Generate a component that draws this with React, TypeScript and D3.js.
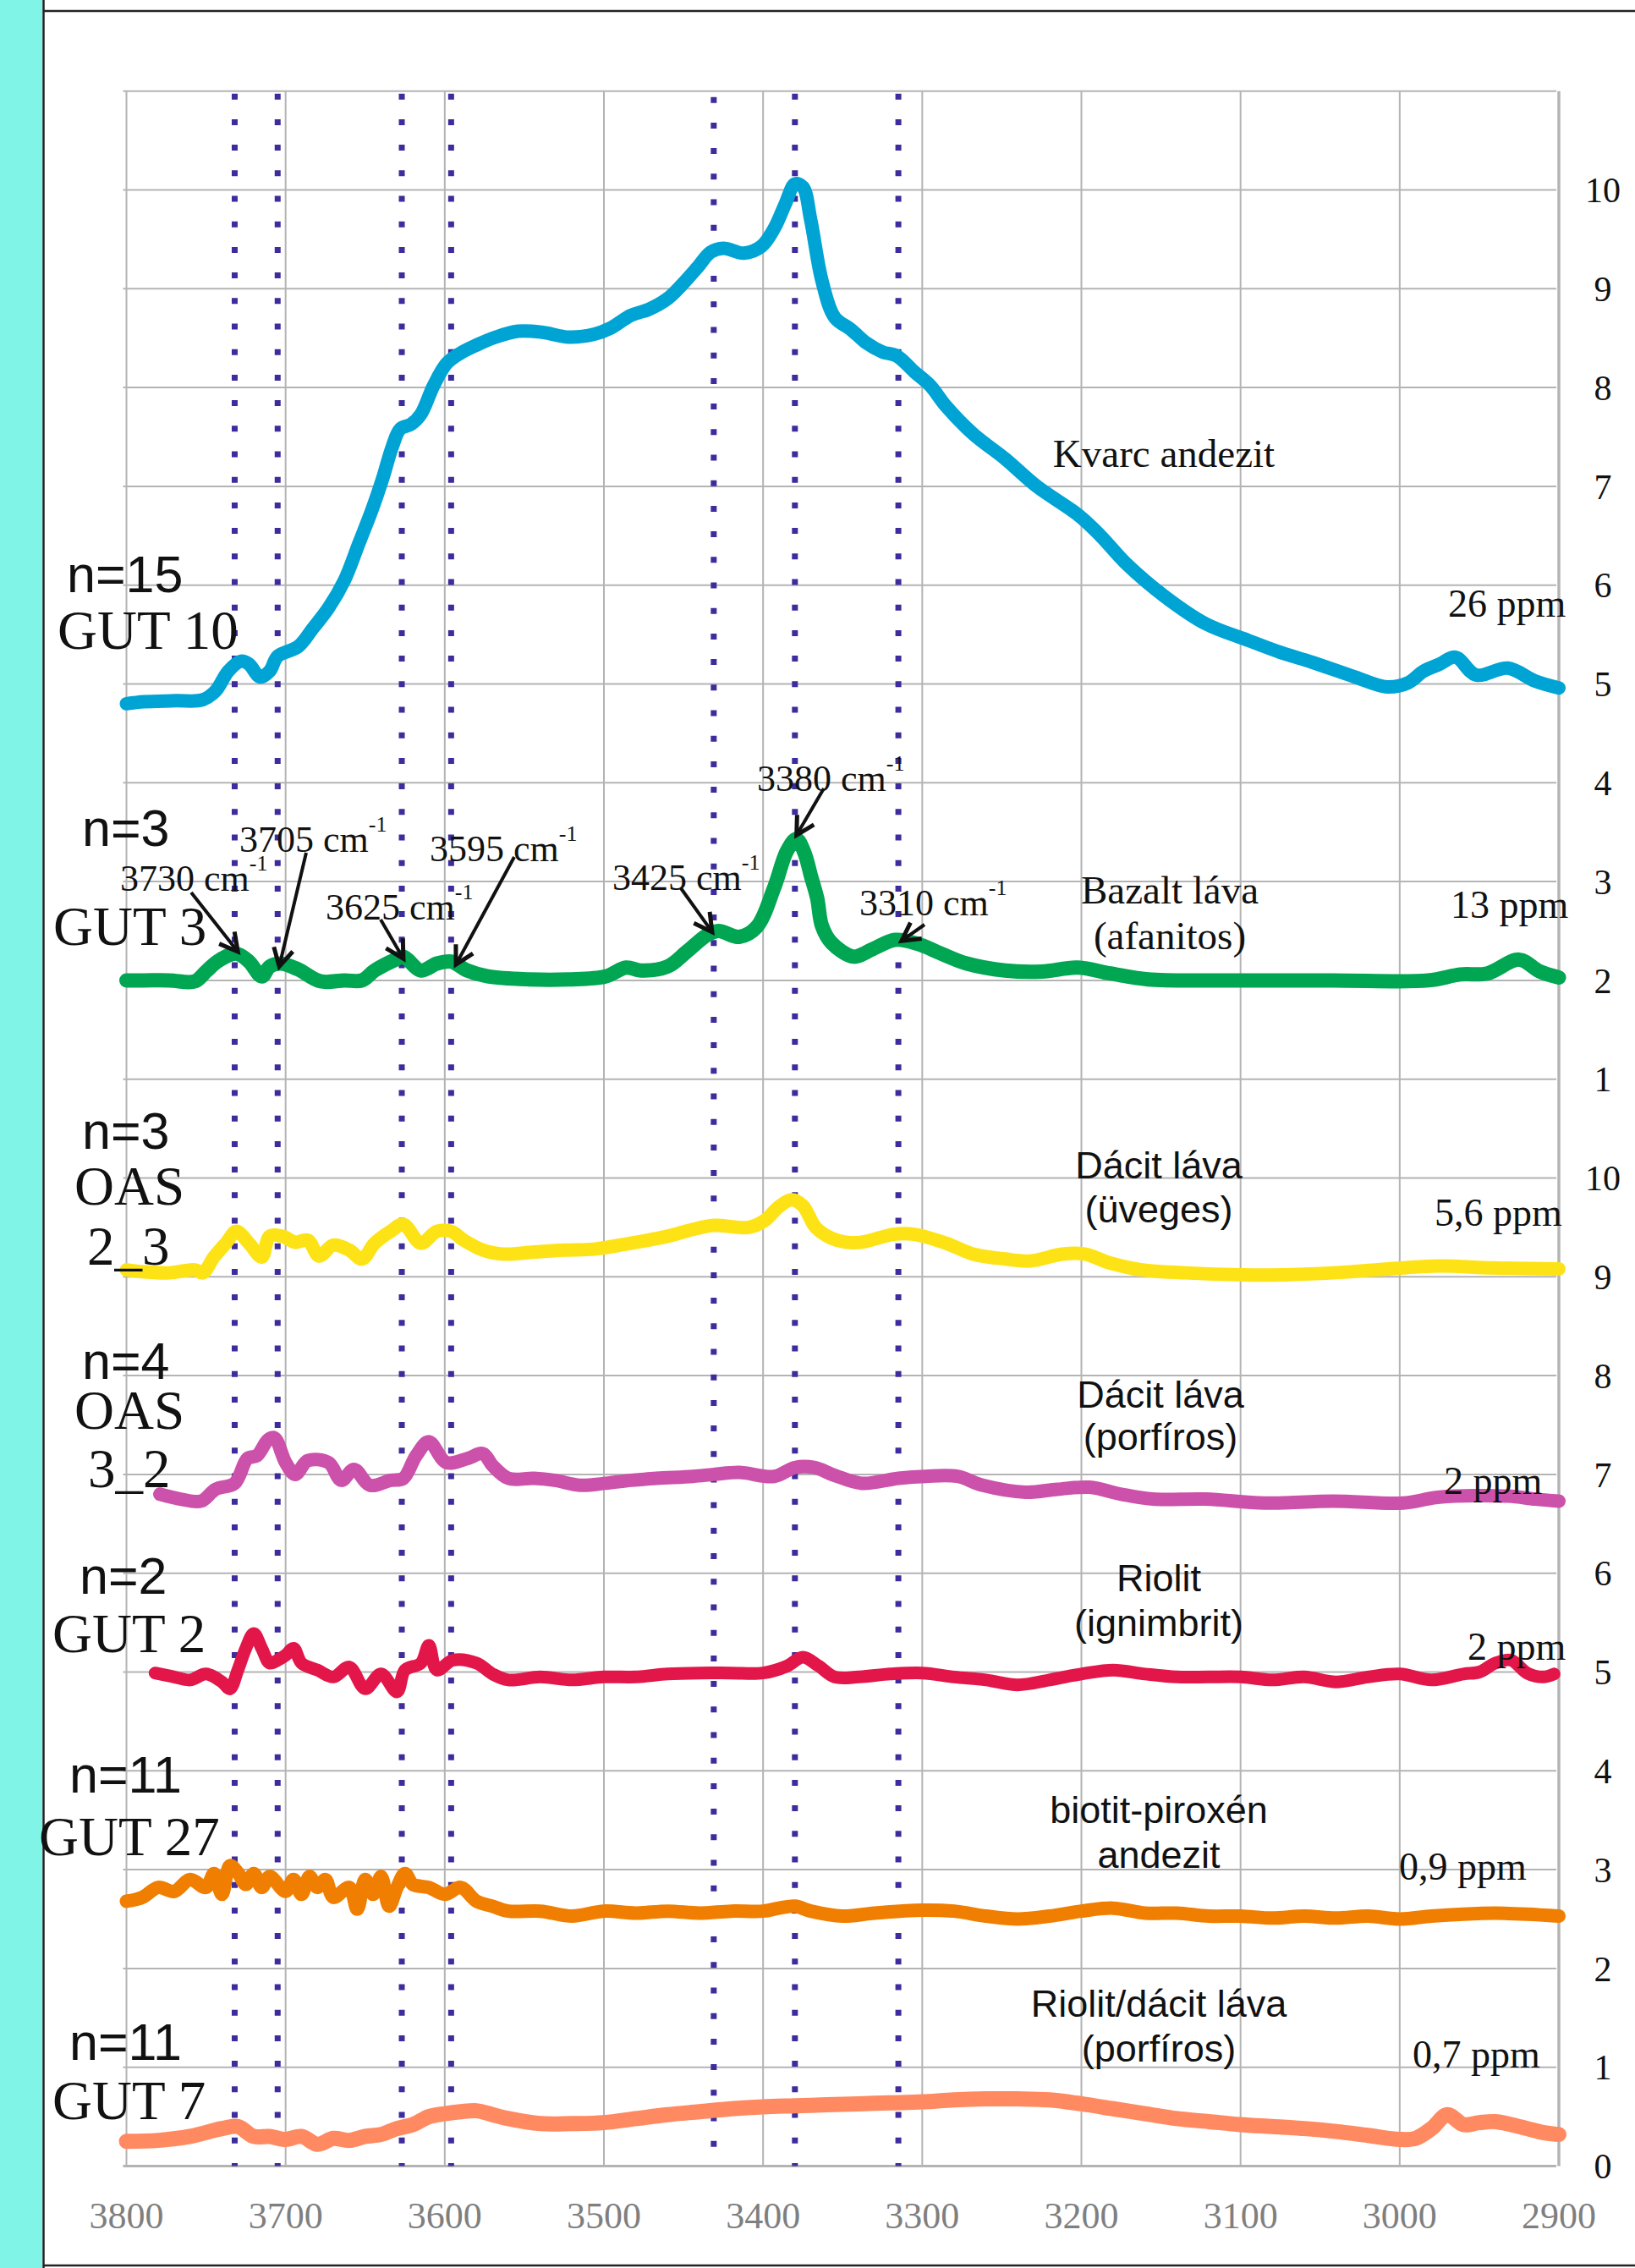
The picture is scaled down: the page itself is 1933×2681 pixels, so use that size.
import React from 'react';
import * as d3 from 'd3';

type Pt = [number, number];

// ---------- axis / grid data ----------
const WN_TICKS = [3800, 3700, 3600, 3500, 3400, 3300, 3200, 3100, 3000, 2900];
const Y_GRID = d3.range(0, 22); // combined stacked axis 0..21
const PEAK_LINES = [3732, 3705, 3627, 3596, 3431, 3380, 3315];

// ---------- series (top panel: values 0..11, bottom panel: values 0..10) ----------
const kvarcAndezit: Pt[] = [
  [3800, 4.8], [3789, 4.82], [3769, 4.83], [3752, 4.84], [3744, 4.93], [3736, 5.13], [3728, 5.23], [3723, 5.2],
  [3716, 5.07], [3710, 5.13], [3705, 5.28], [3692, 5.38], [3683, 5.56], [3673, 5.77], [3663, 6.05], [3654, 6.42],
  [3646, 6.75], [3639, 7.08], [3633, 7.4], [3628, 7.58], [3621, 7.63], [3615, 7.73], [3607, 8.02], [3599, 8.24],
  [3591, 8.34], [3580, 8.43], [3568, 8.51], [3554, 8.57], [3539, 8.56], [3522, 8.51], [3506, 8.54], [3496, 8.6],
  [3483, 8.73], [3472, 8.79], [3460, 8.9], [3451, 9.04], [3441, 9.22], [3433, 9.37], [3425, 9.41], [3412, 9.36],
  [3401, 9.43], [3393, 9.61], [3386, 9.86], [3380, 10.06], [3375, 10.03], [3370, 9.69], [3363, 9.08], [3355, 8.71],
  [3345, 8.59], [3335, 8.45], [3325, 8.36], [3316, 8.32], [3305, 8.16], [3295, 8.02], [3285, 7.81], [3268, 7.53],
  [3248, 7.28], [3228, 7.0], [3202, 6.71], [3188, 6.5], [3172, 6.22], [3148, 5.89], [3122, 5.61], [3095, 5.44],
  [3075, 5.32], [3055, 5.22], [3028, 5.07], [3008, 4.97], [2995, 5.01], [2985, 5.13], [2975, 5.2], [2965, 5.27],
  [2952, 5.09], [2932, 5.16], [2915, 5.03], [2900, 4.96],
];

const bazaltLava: Pt[] = [
  [3800, 2.0], [3789, 2.0], [3773, 2.0], [3757, 1.99], [3750, 2.09], [3742, 2.2], [3731, 2.27], [3723, 2.19],
  [3715, 2.04], [3710, 2.14], [3703, 2.17], [3692, 2.11], [3678, 1.99], [3663, 2.0], [3652, 2.0], [3644, 2.1],
  [3631, 2.21], [3626, 2.24], [3615, 2.1], [3605, 2.17], [3596, 2.19], [3586, 2.1], [3573, 2.04], [3547, 2.01],
  [3522, 2.01], [3499, 2.04], [3486, 2.13], [3477, 2.1], [3460, 2.14], [3448, 2.29], [3435, 2.46], [3428, 2.5],
  [3415, 2.44], [3404, 2.54], [3393, 2.94], [3385, 3.31], [3379, 3.43], [3374, 3.29], [3370, 3.06], [3366, 2.83],
  [3363, 2.55], [3357, 2.38], [3343, 2.24], [3332, 2.31], [3317, 2.41], [3303, 2.37], [3288, 2.27], [3272, 2.17],
  [3248, 2.1], [3225, 2.09], [3202, 2.13], [3182, 2.07], [3158, 2.01], [3108, 2.0], [3042, 2.0], [2982, 2.0],
  [2962, 2.06], [2945, 2.07], [2925, 2.21], [2912, 2.09], [2900, 2.03],
];

const dacitUveges: Pt[] = [
  [3800, 9.07], [3789, 9.05], [3773, 9.04], [3757, 9.07], [3752, 9.04], [3745, 9.2], [3737, 9.35], [3731, 9.46],
  [3723, 9.34], [3715, 9.2], [3710, 9.41], [3702, 9.41], [3694, 9.35], [3686, 9.37], [3679, 9.21], [3670, 9.32],
  [3660, 9.27], [3652, 9.18], [3644, 9.34], [3634, 9.46], [3626, 9.53], [3615, 9.34], [3605, 9.46], [3596, 9.46],
  [3588, 9.37], [3576, 9.27], [3563, 9.23], [3544, 9.25], [3525, 9.27], [3506, 9.28], [3483, 9.34], [3460, 9.41],
  [3444, 9.48], [3431, 9.52], [3409, 9.5], [3399, 9.57], [3390, 9.71], [3382, 9.78], [3375, 9.72], [3367, 9.5],
  [3357, 9.39], [3348, 9.35], [3338, 9.35], [3318, 9.43], [3305, 9.43], [3285, 9.34], [3268, 9.23], [3248, 9.18],
  [3232, 9.16], [3212, 9.23], [3198, 9.23], [3182, 9.14], [3162, 9.07], [3135, 9.04], [3098, 9.02], [3075, 9.02],
  [3042, 9.04], [3015, 9.07], [2975, 9.11], [2942, 9.09], [2900, 9.08],
];

const dacitPorfiros: Pt[] = [
  [3779, 6.8], [3766, 6.75], [3753, 6.73], [3744, 6.85], [3732, 6.91], [3724, 7.16], [3718, 7.19], [3711, 7.35],
  [3707, 7.37], [3700, 7.12], [3694, 7.0], [3686, 7.14], [3673, 7.12], [3665, 6.94], [3657, 7.05], [3647, 6.89],
  [3634, 6.94], [3626, 6.96], [3618, 7.19], [3610, 7.33], [3599, 7.12], [3586, 7.16], [3576, 7.21], [3570, 7.09],
  [3560, 6.96], [3544, 6.96], [3531, 6.94], [3515, 6.89], [3499, 6.91], [3483, 6.94], [3467, 6.96], [3444, 6.98],
  [3431, 7.0], [3415, 7.02], [3393, 6.98], [3380, 7.07], [3368, 7.07], [3355, 6.99], [3338, 6.91], [3315, 6.96],
  [3298, 6.98], [3278, 6.98], [3262, 6.89], [3235, 6.82], [3215, 6.85], [3195, 6.87], [3175, 6.8], [3155, 6.75],
  [3122, 6.75], [3085, 6.71], [3042, 6.73], [2998, 6.71], [2975, 6.77], [2932, 6.78], [2915, 6.75], [2900, 6.73],
];

const riolitIgnimbrit: Pt[] = [
  [3782, 4.99], [3770, 4.95], [3760, 4.92], [3750, 4.98], [3740, 4.9], [3735, 4.83], [3730, 5.02], [3725, 5.24],
  [3720, 5.39], [3715, 5.24], [3710, 5.09], [3705, 5.12], [3700, 5.17], [3695, 5.24], [3690, 5.09], [3680, 5.02],
  [3670, 4.95], [3660, 5.05], [3650, 4.83], [3640, 4.98], [3630, 4.8], [3625, 5.02], [3615, 5.09], [3610, 5.27],
  [3605, 5.02], [3595, 5.12], [3580, 5.09], [3570, 4.98], [3560, 4.92], [3540, 4.95], [3520, 4.92], [3500, 4.95],
  [3480, 4.95], [3460, 4.98], [3440, 4.99], [3420, 4.99], [3400, 4.99], [3385, 5.06], [3375, 5.15], [3365, 5.06],
  [3355, 4.95], [3340, 4.95], [3320, 4.98], [3300, 4.99], [3280, 4.95], [3260, 4.92], [3240, 4.87], [3220, 4.92],
  [3200, 4.98], [3180, 5.02], [3160, 4.98], [3140, 4.95], [3120, 4.95], [3100, 4.95], [3080, 4.92], [3060, 4.95],
  [3040, 4.9], [3020, 4.95], [3000, 4.98], [2980, 4.92], [2960, 4.98], [2950, 5.0], [2940, 5.09], [2930, 5.12],
  [2920, 4.99], [2910, 4.95], [2903, 4.98],
];

const biotitPiroxen: Pt[] = [
  [3800, 2.68], [3790, 2.72], [3780, 2.82], [3770, 2.78], [3760, 2.9], [3750, 2.82], [3745, 2.96], [3740, 2.75],
  [3735, 3.04], [3730, 2.97], [3725, 2.85], [3720, 2.96], [3715, 2.82], [3710, 2.93], [3700, 2.78], [3695, 2.9],
  [3690, 2.75], [3685, 2.93], [3680, 2.82], [3675, 2.9], [3670, 2.72], [3660, 2.82], [3655, 2.6], [3650, 2.9],
  [3645, 2.75], [3640, 2.93], [3635, 2.63], [3630, 2.82], [3625, 2.96], [3620, 2.85], [3610, 2.82], [3600, 2.75],
  [3590, 2.82], [3580, 2.68], [3570, 2.63], [3560, 2.58], [3540, 2.58], [3520, 2.53], [3500, 2.58], [3480, 2.56],
  [3460, 2.58], [3440, 2.56], [3420, 2.58], [3400, 2.58], [3390, 2.61], [3380, 2.63], [3370, 2.58], [3350, 2.53],
  [3330, 2.56], [3300, 2.59], [3280, 2.58], [3260, 2.53], [3240, 2.5], [3220, 2.53], [3200, 2.58], [3180, 2.61],
  [3160, 2.56], [3140, 2.56], [3120, 2.53], [3100, 2.53], [3080, 2.51], [3060, 2.53], [3040, 2.51], [3020, 2.53],
  [3000, 2.5], [2980, 2.53], [2960, 2.55], [2940, 2.56], [2920, 2.55], [2900, 2.53],
];

const riolitDacit: Pt[] = [
  [3800, 0.25], [3780, 0.26], [3760, 0.3], [3740, 0.38], [3730, 0.4], [3720, 0.3], [3710, 0.3], [3700, 0.27],
  [3690, 0.3], [3680, 0.22], [3670, 0.28], [3660, 0.26], [3650, 0.3], [3640, 0.32], [3630, 0.38], [3620, 0.42],
  [3610, 0.5], [3600, 0.53], [3590, 0.55], [3580, 0.56], [3570, 0.52], [3560, 0.48], [3540, 0.43], [3520, 0.43],
  [3500, 0.44], [3480, 0.48], [3460, 0.52], [3440, 0.55], [3420, 0.58], [3400, 0.6], [3380, 0.61], [3360, 0.62],
  [3340, 0.63], [3320, 0.64], [3300, 0.65], [3280, 0.67], [3260, 0.68], [3240, 0.68], [3220, 0.67], [3200, 0.63],
  [3180, 0.58], [3160, 0.53], [3140, 0.48], [3120, 0.45], [3100, 0.42], [3080, 0.4], [3060, 0.38], [3040, 0.35],
  [3020, 0.31], [3000, 0.27], [2990, 0.28], [2980, 0.38], [2970, 0.52], [2960, 0.42], [2950, 0.44], [2940, 0.45],
  [2930, 0.42], [2920, 0.38], [2910, 0.34], [2900, 0.32],
];

// ---------- labels ----------
const SERIES_NAMES = [
  ['Kvarc andezit'], ['Bazalt láva', '(afanitos)'], ['Dácit láva', '(üveges)'], ['Dácit láva', '(porfíros)'],
  ['Riolit', '(ignimbrit)'], ['biotit-piroxén', 'andezit'], ['Riolit/dácit láva', '(porfíros)'],
];
const PPM_LABELS = ['26 ppm', '13 ppm', '5,6 ppm', '2 ppm', '2 ppm', '0,9 ppm', '0,7 ppm'];
const N_LABELS = ['n=15', 'n=3', 'n=3', 'n=4', 'n=2', 'n=11', 'n=11'];
const SAMPLE_LABELS = [['GUT 10'], ['GUT 3'], ['OAS', '2_3'], ['OAS', '3_2'], ['GUT 2'], ['GUT 27'], ['GUT 7']];
const PEAK_LABELS = ['3730', '3705', '3625', '3595', '3425', '3380', '3310'];
const PEAK_TIPS: Pt[] = [[3730, 2.29], [3704, 2.14], [3626, 2.22], [3593, 2.16], [3432, 2.49], [3379, 3.47], [3313, 2.4]];

// ---------- layout (pixels) ----------
const W = 1933, H = 2681;
const PLOT_L = 149.5, PLOT_R = 1843, PLOT_T = 107.7, PLOT_B = 2560.5;
const SERIF = '"Liberation Serif", "Times New Roman", serif';
const SANS = '"Liberation Sans", Arial, sans-serif';

const seriesStyle = [
  { data: kvarcAndezit, color: '#00a4d4', width: 16, top: true, name: { x: 1376, y: [552], sans: false }, ppm: { x: 1712, y: 729 } },
  { data: bazaltLava, color: '#00a651', width: 17, top: true, name: { x: 1383, y: [1068, 1122], sans: false }, ppm: { x: 1715, y: 1085 } },
  { data: dacitUveges, color: '#fde316', width: 16, top: false, name: { x: 1370, y: [1393, 1445], sans: true }, ppm: { x: 1696, y: 1449 } },
  { data: dacitPorfiros, color: '#cc51aa', width: 16, top: false, name: { x: 1372, y: [1664, 1714], sans: true }, ppm: { x: 1707, y: 1766 } },
  { data: riolitIgnimbrit, color: '#e3164a', width: 15, top: false, name: { x: 1370, y: [1881, 1934], sans: true }, ppm: { x: 1735, y: 1962 } },
  { data: biotitPiroxen, color: '#f07e00', width: 16, top: false, name: { x: 1370, y: [2155, 2208], sans: true }, ppm: { x: 1654, y: 2222 } },
  { data: riolitDacit, color: '#ff8a62', width: 18, top: false, name: { x: 1370, y: [2384, 2437], sans: true }, ppm: { x: 1670, y: 2444 } },
];

const leftLabelPos = [
  { nx: 79, ny: 700, sx: 68, sy: [767] },
  { nx: 97, ny: 1000, sx: 63, sy: [1117] },
  { nx: 97, ny: 1358, sx: 88, sy: [1424, 1495], sx2: 103 },
  { nx: 97, ny: 1630, sx: 88, sy: [1689, 1758], sx2: 104 },
  { nx: 94, ny: 1884, sx: 62, sy: [1953] },
  { nx: 82, ny: 2119, sx: 46, sy: [2193] },
  { nx: 82, ny: 2435, sx: 62, sy: [2505] },
];

const peakLabelPos = [
  { x: 142, y: 1053, tail: [226, 1055] },
  { x: 283, y: 1007, tail: [362, 1008] },
  { x: 385, y: 1087, tail: [450, 1087] },
  { x: 508, y: 1018, tail: [608, 1013] },
  { x: 724, y: 1052, tail: [805, 1050] },
  { x: 895, y: 935, tail: [974, 932] },
  { x: 1016, y: 1082, tail: [1093, 1093] },
];

export default function App() {
  const x = d3.scaleLinear().domain([3800, 2900]).range([PLOT_L, PLOT_R]);
  const yAll = d3.scaleLinear().domain([0, 21]).range([PLOT_B, PLOT_T]);
  const yTop = (v: number) => yAll(v + 10);
  const yBot = (v: number) => yAll(v);

  const lineFor = (top: boolean) =>
    d3.line<Pt>()
      .x((d) => x(d[0]))
      .y((d) => (top ? yTop(d[1]) : yBot(d[1])))
      .curve(d3.curveCatmullRom.alpha(0.5));

  const arrowHead = (tx: number, ty: number, sx: number, sy: number) => {
    const ang = Math.atan2(sy - ty, sx - tx);
    const len = 24, spread = 0.5;
    const a1 = ang + spread, a2 = ang - spread;
    return `M${tx + len * Math.cos(a1)},${ty + len * Math.sin(a1)} L${tx},${ty} L${tx + len * Math.cos(a2)},${ty + len * Math.sin(a2)}`;
  };

  return (
    <svg width={W} height={H} style={{ position: 'absolute', left: 0, top: 0, background: '#fff' }}>
      <rect x={0} y={0} width={W} height={H} fill="#fff" />
      <rect x={0} y={0} width={50} height={H} fill="#80f5e7" />
      <line x1={51.5} y1={0} x2={51.5} y2={H} stroke="#222" strokeWidth={2.5} />
      <line x1={51} y1={13} x2={W} y2={13} stroke="#222" strokeWidth={2.5} />
      <line x1={51} y1={2678} x2={W} y2={2678} stroke="#222" strokeWidth={2.5} />

      {/* horizontal grid */}
      {Y_GRID.map((v) => (
        <line key={'h' + v} x1={PLOT_L - 4} x2={PLOT_R - 3} y1={yAll(v)} y2={yAll(v)}
          stroke="#b4b4b4" strokeWidth={v === 0 ? 3 : 2} />
      ))}
      {/* vertical grid */}
      {WN_TICKS.map((t) => (
        <line key={'v' + t} x1={x(t)} x2={x(t)} y1={PLOT_T} y2={PLOT_B}
          stroke="#b4b4b4" strokeWidth={t === 2900 ? 3.5 : 2} />
      ))}

      {/* peak dotted lines */}
      {PEAK_LINES.map((p, i) => (
        <line key={'p' + p} x1={x(p)} x2={x(p)} y1={PLOT_T + (i === 4 ? 7 : 3)} y2={PLOT_B}
          stroke="#3d2c9c" strokeWidth={7} strokeDasharray="7 23.2" />
      ))}

      {/* x tick labels */}
      {WN_TICKS.map((t) => (
        <text key={'xt' + t} x={x(t)} y={2634} textAnchor="middle" fontFamily={SERIF} fontSize={44} fill="#7f7f7f">
          {t}
        </text>
      ))}
      {/* right y tick labels */}
      {Y_GRID.filter((v) => v <= 20).map((v) => (
        <text key={'yt' + v} x={1895} y={yAll(v)} dy="0.35em" textAnchor="middle" fontFamily={SERIF} fontSize={42} fill="#111">
          {v <= 10 ? v : v - 10}
        </text>
      ))}

      {/* series */}
      {seriesStyle.map((s, i) => (
        <path key={'s' + i} d={lineFor(s.top)(s.data) || ''} fill="none" stroke={s.color} strokeWidth={s.width}
          strokeLinecap="round" strokeLinejoin="round" />
      ))}

      {/* series names & ppm */}
      {seriesStyle.map((s, i) => (
        <g key={'n' + i}>
          {SERIES_NAMES[i].map((t, j) => (
            <text key={j} x={s.name.x} y={s.name.y[j]} textAnchor="middle"
              fontFamily={s.name.sans ? SANS : SERIF} fontSize={s.name.sans ? 45 : 47} fill="#111">
              {t}
            </text>
          ))}
          <text x={s.ppm.x} y={s.ppm.y} fontFamily={SERIF} fontSize={46} fill="#111">{PPM_LABELS[i]}</text>
        </g>
      ))}

      {/* left labels */}
      {leftLabelPos.map((p, i) => (
        <g key={'l' + i}>
          <text x={p.nx} y={p.ny} fontFamily={SANS} fontSize={61} fill="#111">{N_LABELS[i]}</text>
          {SAMPLE_LABELS[i].map((t, j) => (
            <text key={j} x={j === 0 ? p.sx : p.sx2} y={p.sy[j]} fontFamily={SERIF} fontSize={65} fill="#111">{t}</text>
          ))}
        </g>
      ))}

      {/* peak annotations */}
      {peakLabelPos.map((p, i) => {
        const tx = x(PEAK_TIPS[i][0]);
        const ty = yTop(PEAK_TIPS[i][1]);
        return (
          <g key={'a' + i}>
            <text x={p.x} y={p.y} fontFamily={SERIF} fontSize={44} fill="#111">
              {PEAK_LABELS[i]} cm
              <tspan fontSize={26} dy={-24}>-1</tspan>
            </text>
            <line x1={p.tail[0]} y1={p.tail[1]} x2={tx} y2={ty} stroke="#111" strokeWidth={4} />
            <path d={arrowHead(tx, ty, p.tail[0], p.tail[1])} fill="none" stroke="#111" strokeWidth={5} />
          </g>
        );
      })}
    </svg>
  );
}
